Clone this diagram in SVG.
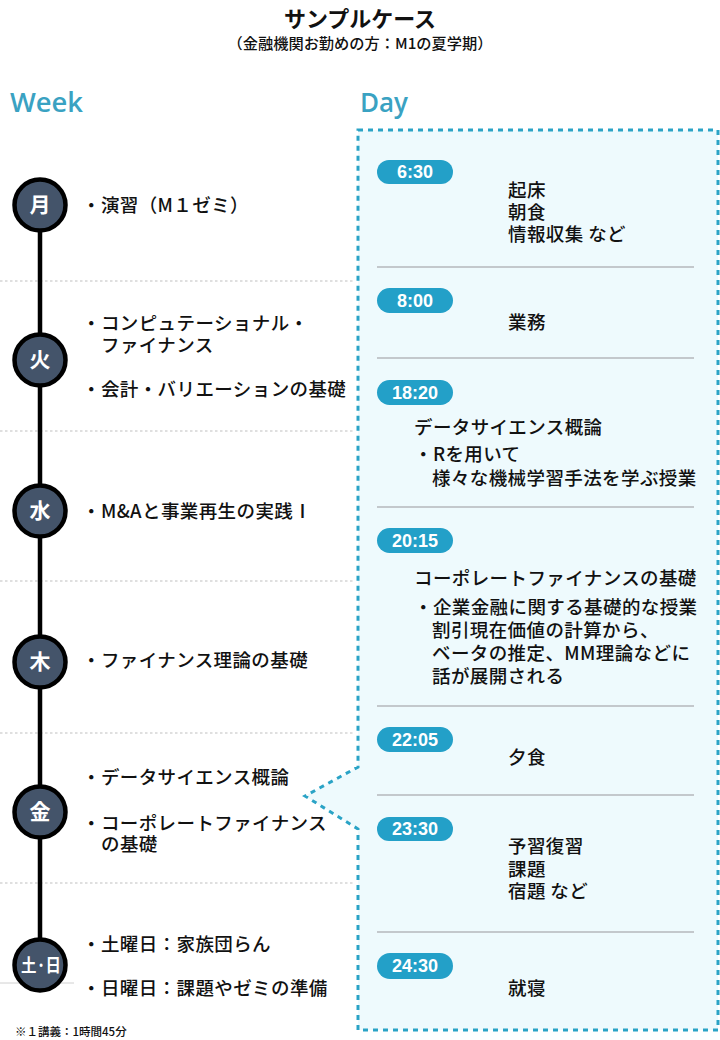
<svg xmlns="http://www.w3.org/2000/svg" width="720" height="1040" viewBox="0 0 720 1040">
<style>
text{font-family:"Noto Sans CJK JP","Noto Sans",sans-serif;fill:#111}
.t{font-size:18.5px;font-weight:500;letter-spacing:0.4px}
.h{font-size:27px;font-family:"Open Sans","Liberation Sans",sans-serif;font-weight:600;fill:#3aa2c2}
.day{font-size:21px;font-weight:700;fill:#fff;text-anchor:middle}
.pl{font-size:18px;font-weight:700;fill:#fff;text-anchor:middle;font-family:"Liberation Sans","Noto Sans CJK JP",sans-serif}
.sep{stroke:#bfbfbf;stroke-width:1.2;stroke-dasharray:2.5 2.5}
.ds{stroke:#c3c8cc;stroke-width:2}
.pill{fill:#23a0c8}
.node{fill:#44546a;stroke:#000;stroke-width:4.5}
</style>
<rect width="720" height="1040" fill="#fff"/>
<g id="title">
<text x="360" y="27" text-anchor="middle" style="font-size:22px;font-weight:700">サンプルケース</text>
<text x="360" y="49" text-anchor="middle" style="font-size:15px;font-weight:500" textLength="265" lengthAdjust="spacingAndGlyphs">（金融機関お勤めの方：M1の夏学期）</text>
</g>
<text class="h" x="10" y="112" textLength="73" lengthAdjust="spacingAndGlyphs">Week</text>
<text class="h" x="360" y="112" textLength="48" lengthAdjust="spacingAndGlyphs">Day</text>
<g id="separators">
<line class="sep" x1="0" y1="281" x2="355" y2="281"/>
<line class="sep" x1="0" y1="431" x2="355" y2="431"/>
<line class="sep" x1="0" y1="581" x2="355" y2="581"/>
<line class="sep" x1="0" y1="733" x2="355" y2="733"/>
<line class="sep" x1="0" y1="883" x2="355" y2="883"/>
<line x1="0" y1="983" x2="74" y2="983" stroke="#d0d0d0" stroke-width="1"/>
</g>
<g id="day-box">
<path d="M358,130 H718 V1030 H358 V829 L305,796 L358,767 Z" fill="#eefafd" stroke="#2aa3c6" stroke-width="3" stroke-dasharray="5 5"/>
<line class="ds" x1="377" y1="267" x2="694" y2="267"/>
<line class="ds" x1="377" y1="358" x2="694" y2="358"/>
<line class="ds" x1="377" y1="507" x2="694" y2="507"/>
<line class="ds" x1="377" y1="706" x2="694" y2="706"/>
<line class="ds" x1="377" y1="795" x2="694" y2="795"/>
<line class="ds" x1="377" y1="932" x2="694" y2="932"/>
</g>
<g id="connectors">
<line x1="40" y1="206" x2="40" y2="965" stroke="#000" stroke-width="4.5"/>
</g>
<g id="mon"><circle class="node" cx="40" cy="205" r="25.5"/><text class="day" x="40" y="212">月</text>
<text class="t" x="82" y="212">・演習（M１ゼミ）</text></g>
<g id="tue"><circle class="node" cx="40" cy="360" r="25.5"/><text class="day" x="40" y="367">火</text>
<text class="t" x="82" y="330">・コンピュテーショナル・</text>
<text class="t" x="101" y="352">ファイナンス</text>
<text class="t" x="82" y="396">・会計・バリエーションの基礎</text></g>
<g id="wed"><circle class="node" cx="40" cy="511" r="25.5"/><text class="day" x="40" y="518">水</text>
<text class="t" x="82" y="518">・M&amp;Aと事業再生の実践Ⅰ</text></g>
<g id="thu"><circle class="node" cx="40" cy="662" r="25.5"/><text class="day" x="40" y="669">木</text>
<text class="t" x="82" y="667">・ファイナンス理論の基礎</text></g>
<g id="fri"><circle class="node" cx="40" cy="812" r="25.5"/><text class="day" x="40" y="819">金</text>
<text class="t" x="82" y="784">・データサイエンス概論</text>
<text class="t" x="82" y="830">・コーポレートファイナンス</text>
<text class="t" x="101" y="851">の基礎</text></g>
<g id="weekend"><circle class="node" cx="40" cy="965" r="25.5"/><text class="day" x="41" y="972" style="font-size:18px" textLength="40" lengthAdjust="spacingAndGlyphs">土·日</text>
<text class="t" x="82" y="951">・土曜日：家族団らん</text>
<text class="t" x="82" y="995">・日曜日：課題やゼミの準備</text></g>
<text x="15" y="1036" style="font-size:11.5px;font-weight:500">※１講義：1時間45分</text>
<g id="t0630"><rect class="pill" x="377" y="160" width="76" height="24" rx="12"/><text class="pl" x="415" y="178">6:30</text>
<text class="t" x="508" y="197">起床</text><text class="t" x="508" y="219">朝食</text><text class="t" x="508" y="241">情報収集 など</text></g>
<g id="t0800"><rect class="pill" x="377" y="288" width="76" height="25" rx="12.5"/><text class="pl" x="415" y="307">8:00</text>
<text class="t" x="508" y="329">業務</text></g>
<g id="t1820"><rect class="pill" x="377" y="380" width="76" height="25" rx="12.5"/><text class="pl" x="415" y="399">18:20</text>
<text class="t" x="414" y="434">データサイエンス概論</text>
<text class="t" x="414" y="461">・Rを用いて</text>
<text class="t" x="432" y="485">様々な機械学習手法を学ぶ授業</text></g>
<g id="t2015"><rect class="pill" x="377" y="528" width="76" height="25" rx="12.5"/><text class="pl" x="415" y="547">20:15</text>
<text class="t" x="414" y="585">コーポレートファイナンスの基礎</text>
<text class="t" x="414" y="614">・企業金融に関する基礎的な授業</text>
<text class="t" x="432" y="637">割引現在価値の計算から、</text>
<text class="t" x="432" y="660">ベータの推定、MM理論などに</text>
<text class="t" x="432" y="683">話が展開される</text></g>
<g id="t2205"><rect class="pill" x="377" y="727" width="76" height="25" rx="12.5"/><text class="pl" x="415" y="746">22:05</text>
<text class="t" x="508" y="764">夕食</text></g>
<g id="t2330"><rect class="pill" x="377" y="817" width="76" height="24" rx="12"/><text class="pl" x="415" y="835">23:30</text>
<text class="t" x="508" y="853">予習復習</text><text class="t" x="508" y="876">課題</text><text class="t" x="508" y="898">宿題 など</text></g>
<g id="t2430"><rect class="pill" x="377" y="953" width="76" height="26" rx="13"/><text class="pl" x="415" y="972">24:30</text>
<text class="t" x="508" y="995">就寝</text></g>
</svg>
